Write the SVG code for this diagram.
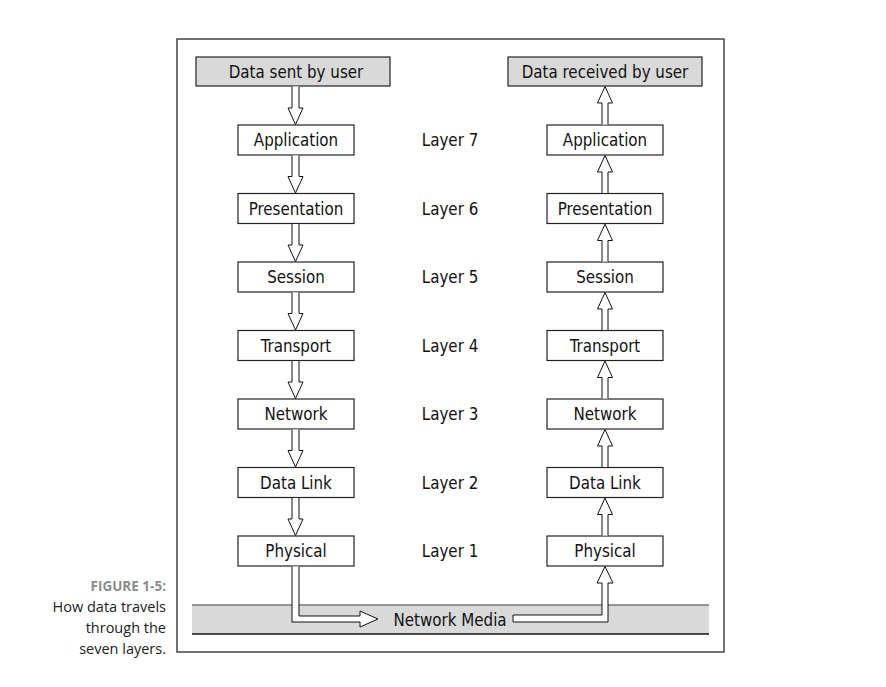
<svg xmlns="http://www.w3.org/2000/svg" width="886" height="687" viewBox="0 0 886 687">
<style>
.box{fill:#fff;stroke:#222;stroke-width:1.2}
.gbox{fill:#d9d9d9;stroke:#222;stroke-width:1.2}
.t{font-family:"DejaVu Sans Condensed","Liberation Sans Narrow","Liberation Sans",sans-serif;font-size:16.8px;fill:#111;text-anchor:middle}
.arr{fill:#fff;stroke:#111;stroke-width:1}
.cap{font-family:"Open Sans","Noto Sans",sans-serif;font-size:14.5px;fill:#222;text-anchor:end}
</style>
<rect width="886" height="687" fill="#fff"/>
<rect x="177" y="39" width="547" height="613" fill="none" stroke="#444" stroke-width="1.5"/>
<g id="caption">
<text class="cap" x="166" y="591" style="font-weight:bold;fill:#8c8c8c;font-size:13.5px">FIGURE 1-5:</text>
<text class="cap" x="166" y="612">How data travels</text>
<text class="cap" x="166" y="633">through the</text>
<text class="cap" x="166" y="654">seven layers.</text>
</g>
<g id="media">
<rect x="192" y="605" width="517" height="29" fill="#d9d9d9"/>
<line x1="192" y1="605" x2="709" y2="605" stroke="#777" stroke-width="1.5"/>
<line x1="192" y1="634" x2="709" y2="634" stroke="#111" stroke-width="1.5"/>
<text class="t" x="450" y="626">Network Media</text>
</g>
<g id="sent"><rect class="gbox" x="196" y="57" width="194" height="29"/><text class="t" x="296" y="77.5">Data sent by user</text></g>
<g id="received"><rect class="gbox" x="508" y="57" width="194" height="29"/><text class="t" x="605" y="77.5">Data received by user</text></g>
<g id="L7s"><rect class="box" x="238" y="125" width="116" height="30"/><text class="t" x="296" y="146">Application</text></g>
<g id="L6s"><rect class="box" x="238" y="193.5" width="116" height="30"/><text class="t" x="296" y="214.5">Presentation</text></g>
<g id="L5s"><rect class="box" x="238" y="262" width="116" height="30"/><text class="t" x="296" y="283">Session</text></g>
<g id="L4s"><rect class="box" x="238" y="330.5" width="116" height="30"/><text class="t" x="296" y="351.5">Transport</text></g>
<g id="L3s"><rect class="box" x="238" y="399" width="116" height="30"/><text class="t" x="296" y="420">Network</text></g>
<g id="L2s"><rect class="box" x="238" y="467.5" width="116" height="30"/><text class="t" x="296" y="488.5">Data Link</text></g>
<g id="L1s"><rect class="box" x="238" y="536" width="116" height="30"/><text class="t" x="296" y="557">Physical</text></g>
<g id="L7r"><rect class="box" x="547" y="125" width="116" height="30"/><text class="t" x="605" y="146">Application</text></g>
<g id="L6r"><rect class="box" x="547" y="193.5" width="116" height="30"/><text class="t" x="605" y="214.5">Presentation</text></g>
<g id="L5r"><rect class="box" x="547" y="262" width="116" height="30"/><text class="t" x="605" y="283">Session</text></g>
<g id="L4r"><rect class="box" x="547" y="330.5" width="116" height="30"/><text class="t" x="605" y="351.5">Transport</text></g>
<g id="L3r"><rect class="box" x="547" y="399" width="116" height="30"/><text class="t" x="605" y="420">Network</text></g>
<g id="L2r"><rect class="box" x="547" y="467.5" width="116" height="30"/><text class="t" x="605" y="488.5">Data Link</text></g>
<g id="L1r"><rect class="box" x="547" y="536" width="116" height="30"/><text class="t" x="605" y="557">Physical</text></g>
<g id="labels">
<text class="t" x="450" y="146">Layer 7</text>
<text class="t" x="450" y="214.5">Layer 6</text>
<text class="t" x="450" y="283">Layer 5</text>
<text class="t" x="450" y="351.5">Layer 4</text>
<text class="t" x="450" y="420">Layer 3</text>
<text class="t" x="450" y="488.5">Layer 2</text>
<text class="t" x="450" y="557">Layer 1</text>
</g>
<g id="connectors">
<path class="arr" d="M292,86.5 V108 H288 L295.5,124.5 L303,108 H299 V86.5"/>
<path class="arr" d="M292,155.5 V176.5 H288 L295.5,193 L303,176.5 H299 V155.5"/>
<path class="arr" d="M292,224 V245 H288 L295.5,261.5 L303,245 H299 V224"/>
<path class="arr" d="M292,292.5 V313.5 H288 L295.5,330 L303,313.5 H299 V292.5"/>
<path class="arr" d="M292,361 V382 H288 L295.5,398.5 L303,382 H299 V361"/>
<path class="arr" d="M292,429.5 V450.5 H288 L295.5,467 L303,450.5 H299 V429.5"/>
<path class="arr" d="M292,498 V519 H288 L295.5,535.5 L303,519 H299 V498"/>
<path class="arr" d="M602,124.5 V103 H597.5 L605,86.5 L612.5,103 H608 V124.5"/>
<path class="arr" d="M602,193 V172 H597.5 L605,155.5 L612.5,172 H608 V193"/>
<path class="arr" d="M602,261.5 V240.5 H597.5 L605,224 L612.5,240.5 H608 V261.5"/>
<path class="arr" d="M602,330 V309 H597.5 L605,292.5 L612.5,309 H608 V330"/>
<path class="arr" d="M602,398.5 V377.5 H597.5 L605,361 L612.5,377.5 H608 V398.5"/>
<path class="arr" d="M602,467 V446 H597.5 L605,429.5 L612.5,446 H608 V467"/>
<path class="arr" d="M602,535.5 V514.5 H597.5 L605,498 L612.5,514.5 H608 V535.5"/>
<path class="arr" d="M292,566.5 V622 H360 V627 L378,619 L360,611 V616 H299 V566.5"/>
<path class="arr" d="M513,615 H602 V583 H597 L605,566.5 L613,583 H608 V622 H513 Z"/>
</g>
</svg>
